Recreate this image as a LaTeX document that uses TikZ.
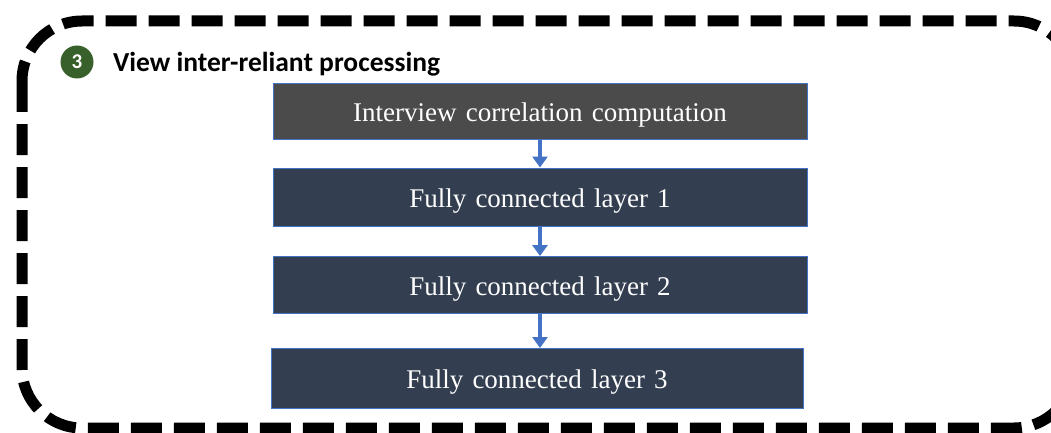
\documentclass[tikz,border=0pt]{standalone}
\usepackage{fontspec}
\setmainfont{Liberation Serif}[WordSpace=1.35]
\newfontfamily\titlefont{Carlito}
\usetikzlibrary{arrows.meta}
\definecolor{boxgray}{HTML}{4B4B4B}
\definecolor{boxnavy}{HTML}{333F50}
\definecolor{edgeblue}{HTML}{4472C4}
\definecolor{badgegreen}{HTML}{38602A}
\tikzset{
  layerbox/.style={draw=edgeblue, line width=1pt, fill=boxnavy, text=white,
    minimum width=534pt, minimum height=57pt, inner sep=0pt,
    text height=20pt, text depth=0pt,
    font=\fontsize{27}{30}\selectfont},
  flowarrow/.style={draw=edgeblue, line width=3.5pt,
    -{Triangle[width=15pt,length=11pt]}},
  frameline/.style={draw=black, line width=11pt, dash pattern=on 31pt off 12pt,
    rounded corners=60pt}
}
\begin{document}
\begin{tikzpicture}[x=1pt,y=-1pt]
\useasboundingbox (0,0) rectangle (1051,433);
\fill[white] (0,0) rectangle (1051,433);
% dashed frame
\draw[frameline] (22,21) rectangle (1074,428);
% badge and title
\node[circle, fill=badgegreen, minimum size=33pt, inner sep=0pt, text=white,
  font=\titlefont\bfseries\fontsize{21}{24}\selectfont] (badge) at (77,62) {3};
\node[anchor=base west, inner sep=0pt, font=\titlefont\bfseries\fontsize{27.5}{30}\selectfont]
  (title) at (113,72) {View inter-reliant processing};
% boxes
\node[layerbox, fill=boxgray, minimum height=55pt] (b1) at (540,111.5) {Interview correlation computation};
\node[layerbox, minimum height=58pt] (b2) at (540,197) {Fully connected layer 1};
\node[layerbox] (b3) at (540,285) {Fully connected layer 2};
\node[layerbox, minimum width=532pt, minimum height=60pt] (b4) at (537,378.5) {Fully connected layer 3};
% arrows
\draw[flowarrow] (b1.south) -- (b2.north);
\draw[flowarrow] (b2.south) -- (b3.north);
\draw[flowarrow] (b3.south) -- (b3.south |- b4.north);
\end{tikzpicture}
\end{document}
